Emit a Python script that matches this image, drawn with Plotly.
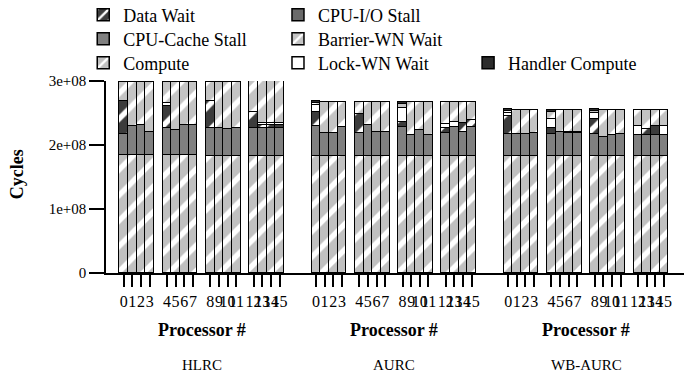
import plotly.graph_objects as go

FONT = "Liberation Serif"
SCALE = 1e8  # values below are in units of 1e8 cycles

SYSTEMS = ["HLRC", "AURC", "WB-AURC"]
PROCESSORS = list(range(16))

# segment values per processor (units of 1e8 cycles), one list per system
compute_hlrc = [1.84, 1.84, 1.84, 1.84, 1.84, 1.84, 1.84, 1.84, 1.826, 1.826, 1.826, 1.826, 1.826, 1.826, 1.826, 1.826]
compute_aurc = [1.836, 1.836, 1.836, 1.836, 1.836, 1.836, 1.836, 1.836, 1.836, 1.836, 1.836, 1.836, 1.836, 1.836, 1.836, 1.836]
compute_wb = [1.836, 1.836, 1.836, 1.836, 1.836, 1.836, 1.836, 1.836, 1.826, 1.826, 1.826, 1.826, 1.83, 1.83, 1.83, 1.83]

cache_hlrc = [0.335, 0.455, 0.466, 0.367, 0.43, 0.393, 0.47, 0.466, 0.444, 0.434, 0.428, 0.444, 0.434, 0.444, 0.444, 0.444]
cache_aurc = [0.459, 0.344, 0.344, 0.444, 0.344, 0.47, 0.371, 0.371, 0.444, 0.314, 0.404, 0.319, 0.344, 0.444, 0.374, 0.444]
cache_wb = [0.329, 0.329, 0.329, 0.344, 0.329, 0.374, 0.344, 0.344, 0.339, 0.304, 0.324, 0.339, 0.32, 0.32, 0.32, 0.32]

io_hlrc = [0] * 16
io_aurc = [0] * 16
io_wb = [0] * 16

data_hlrc = [0.515, 0, 0, 0, 0.34, 0, 0, 0, 0.42, 0, 0, 0, 0.26, 0.04, 0.05, 0.04]
data_aurc = [0.225, 0, 0, 0, 0.31, 0, 0, 0, 0.08, 0, 0, 0, 0.08, 0, 0.13, 0.11]
data_wb = [0.285, 0, 0, 0, 0.095, 0, 0, 0, 0.235, 0, 0, 0, 0, 0.10, 0.14, 0]

lock_hlrc = [0, 0, 0, 0, 0.05, 0, 0, 0, 0, 0, 0, 0, 0, 0.035, 0.02, 0.03]
lock_aurc = [0.10, 0, 0, 0, 0, 0, 0, 0, 0.22, 0, 0, 0, 0.07, 0.08, 0, 0]
lock_wb = [0.05, 0, 0, 0, 0.14, 0, 0.02, 0.02, 0.10, 0, 0, 0, 0.14, 0, 0, 0.14]

barrier_hlrc = [0.30, 0.695, 0.684, 0.783, 0.33, 0.757, 0.68, 0.684, 0.30, 0.73, 0.736, 0.72, 0.48, 0.665, 0.67, 0.67]
barrier_aurc = [0.03, 0.49, 0.49, 0.39, 0.18, 0.364, 0.463, 0.463, 0.06, 0.52, 0.43, 0.515, 0.34, 0.31, 0.33, 0.28]
barrier_wb = [0.03, 0.375, 0.375, 0.36, 0.12, 0.33, 0.34, 0.34, 0.03, 0.41, 0.39, 0.375, 0.25, 0.29, 0.25, 0.25]

handler_hlrc = [0.09, 0, 0, 0, 0.08, 0, 0, 0, 0.08, 0, 0, 0, 0.03, 0, 0, 0]
handler_aurc = [0.035, 0, 0, 0, 0, 0, 0, 0, 0.03, 0, 0, 0, 0, 0, 0, 0]
handler_wb = [0.04, 0, 0, 0, 0.03, 0, 0, 0, 0.03, 0, 0, 0, 0, 0, 0, 0]

Y_TICKS = [0, 1e8, 2e8, 3e8]
Y_TICK_TEXT = ["0", "1e+08", "2e+08", "3e+08"]

# layout helpers (positions, not data)
PANEL_PITCH = 22.2
GROUP_PITCH = 5

xs, xlabels = [], []
for s, _ in enumerate(SYSTEMS):
    for p in PROCESSORS:
        xs.append(s * PANEL_PITCH + (p // 4) * GROUP_PITCH + (p % 4) + 0.5)
        xlabels.append(str(p))

# legend slot (column, row) for each series
COL_X = [-0.039, 0.2945, 0.62]
ROW_Y = [1.344, 1.219, 1.094]

# stack order bottom -> top: name, values, colour, hatch, legend column, legend row
series = [
    ("Compute", compute_hlrc + compute_aurc + compute_wb, "#c0c0c0", "/", 0, 2),
    ("CPU-Cache Stall", cache_hlrc + cache_aurc + cache_wb, "#808080", "", 0, 1),
    ("CPU-I/O Stall", io_hlrc + io_aurc + io_wb, "#6a6a6a", "", 1, 0),
    ("Data Wait", data_hlrc + data_aurc + data_wb, "#3c3c3c", "/", 0, 0),
    ("Lock-WN Wait", lock_hlrc + lock_aurc + lock_wb, "#ffffff", "", 1, 2),
    ("Barrier-WN Wait", barrier_hlrc + barrier_aurc + barrier_wb, "#c4c4c4", "/", 1, 1),
    ("Handler Compute", handler_hlrc + handler_aurc + handler_wb, "#2c2c2c", "", 2, 2),
]

legend_common = dict(font=dict(family=FONT, size=18, color="black"), bgcolor="rgba(0,0,0,0)",
                     orientation="v", xanchor="left", yanchor="middle", itemclick=False,
                     itemdoubleclick=False)

fig = go.Figure()
legend_layout = {}
for i, (name, vals, color, shape, col, row) in enumerate(series):
    marker = dict(color=color, line=dict(color="black", width=1.5))
    if shape:
        marker["pattern"] = dict(shape=shape, bgcolor=color, fgcolor="#ffffff", size=18,
                                 solidity=0.3, fillmode="replace")
    leg = "legend" if i == 0 else f"legend{i + 1}"
    legend_layout[leg] = dict(x=COL_X[col], y=ROW_Y[row], **legend_common)
    fig.add_trace(go.Bar(
        x=xs, y=[v * SCALE for v in vals], name=name, width=1,
        marker=marker, legend=leg, cliponaxis=False, hoverinfo="skip",
    ))

annotations = []
for s, name in enumerate(SYSTEMS):
    cx = s * PANEL_PITCH + 9.5
    annotations.append(dict(x=cx, xref="x", y=-0.297, yref="paper", xanchor="center", yanchor="middle",
                            text="<b>Processor #</b>", showarrow=False,
                            font=dict(family=FONT, size=18, color="black")))
    annotations.append(dict(x=cx, xref="x", y=-0.479, yref="paper", xanchor="center", yanchor="middle",
                            text=name, showarrow=False, font=dict(family=FONT, size=15, color="black")))
annotations.append(dict(x=-0.152, xref="paper", y=0.516, yref="paper", xanchor="center", yanchor="middle",
                        text="<b>Cycles</b>", textangle=-90, showarrow=False,
                        font=dict(family=FONT, size=18, color="black")))

# the page body adds an 8px offset, so the figure is drawn 8px smaller on the left/top
fig.update_layout(
    width=684, height=371,
    margin=dict(l=98, r=2, t=73, b=106, autoexpand=False),
    paper_bgcolor="white", plot_bgcolor="white",
    barmode="stack", bargap=0,
    showlegend=True,
    annotations=annotations,
    font=dict(family=FONT, color="black"),
    **legend_layout,
)
fig.update_xaxes(
    range=[-1.54, 65.9], tickmode="array", tickvals=xs, ticktext=xlabels,
    ticks="outside", ticklen=12, tickwidth=1.5, tickcolor="black", ticklabelstandoff=1,
    showline=True, linecolor="black", linewidth=1.5, showgrid=False, zeroline=False,
    tickfont=dict(family=FONT, size=16, color="black"), tickangle=0, automargin=False,
)
fig.update_yaxes(
    range=[0, 3e8], tickmode="array", tickvals=Y_TICKS, ticktext=Y_TICK_TEXT,
    ticks="outside", ticklen=15, tickwidth=1.5, tickcolor="black",
    showline=True, linecolor="black", linewidth=1.5, showgrid=False, zeroline=False,
    tickfont=dict(family=FONT, size=15, color="black"), automargin=False,
)

fig.write_html("out.html")
